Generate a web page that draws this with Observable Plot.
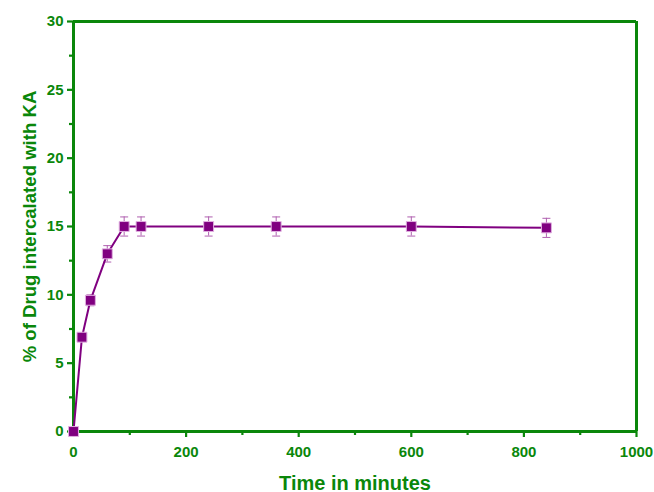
<!DOCTYPE html>
<html><head><meta charset="utf-8">
<script src="https://cdn.jsdelivr.net/npm/d3@7"></script>
<script src="https://cdn.jsdelivr.net/npm/@observablehq/plot@0.6"></script>
<style>
body{margin:0;background:#fff;}
svg{font-family:"Liberation Sans",Arial,sans-serif;}
</style></head><body><div id="chart"></div>
<script>
const time = [0, 15, 30, 60, 90, 120, 240, 360, 600, 840];
const drug = [0, 6.9, 9.6, 13.0, 15.0, 15.0, 15.0, 15.0, 15.0, 14.9];
const err  = [0, 0.2, 0.4, 0.6, 0.7, 0.7, 0.7, 0.7, 0.7, 0.7];
const xTicks = [0, 200, 400, 600, 800, 1000];
const yTicks = [0, 5, 10, 15, 20, 25, 30];
const xMinor = [100, 300, 500, 700, 900];
const yMinor = [2.5, 7.5, 12.5, 17.5, 22.5, 27.5];

const data = time.map((t, i) => ({t, v: drug[i], lo: drug[i] - err[i], hi: drug[i] + err[i]}));
const green = "#0a870a";
const purple = "#800080";
const capSymbol = {draw(ctx, size){ const r = Math.sqrt(size / Math.PI); ctx.moveTo(-r, 0); ctx.lineTo(r, 0); }};

const chart = Plot.plot({
  width: 654, height: 492,
  marginLeft: 73, marginRight: 18, marginTop: 21, marginBottom: 61,
  x: {domain: [0, 1000]},
  y: {domain: [0, 30]},
  style: {fontSize: "15px", fontWeight: "bold", color: green, background: "#fff"},
  marks: [
    Plot.axisX({ticks: xTicks, tickSize: 6, tickPadding: 9, tickFormat: d3.format("d"), fontSize: 15, stroke: green, strokeWidth: 2.2, fill: green, label: null}),
    Plot.axisX({ticks: xMinor, tickSize: 4, tickFormat: () => "", stroke: green, strokeWidth: 2.2, label: null}),
    Plot.axisY({ticks: yTicks, tickSize: 6, tickPadding: 4, fontSize: 15, stroke: green, strokeWidth: 2.2, fill: green, label: null}),
    Plot.axisY({ticks: yMinor, tickSize: 4, tickFormat: () => "", stroke: green, strokeWidth: 2.2, label: null}),
    Plot.ruleX([0, 1000], {stroke: green, strokeWidth: 3}),
    Plot.ruleY([0, 30], {stroke: green, strokeWidth: 3}),
    Plot.ruleX(data, {x: "t", y1: "lo", y2: "hi", stroke: "#b060b0", strokeWidth: 1}),
    Plot.dot(data, {x: "t", y: "lo", symbol: capSymbol, r: 4, stroke: "#b060b0", strokeWidth: 1}),
    Plot.dot(data, {x: "t", y: "hi", symbol: capSymbol, r: 4, stroke: "#b060b0", strokeWidth: 1}),
    Plot.line(data, {x: "t", y: "v", stroke: purple, strokeWidth: 2}),
    Plot.dot(data, {x: "t", y: "v", symbol: "square", r: 5.6, fill: purple, stroke: "#e0b0e0", strokeWidth: 1}),
    Plot.text(["Time in minutes"], {frameAnchor: "bottom", textAnchor: "middle", dy: 58, fontSize: 20, fontWeight: "bold", fill: green}),
    Plot.text(["% of Drug intercalated with KA"], {frameAnchor: "left", textAnchor: "middle", dx: -43, rotate: -90, fontSize: 18.6, fontWeight: "bold", fill: green})
  ]
});
document.getElementById("chart").appendChild(chart);
</script></body></html>
